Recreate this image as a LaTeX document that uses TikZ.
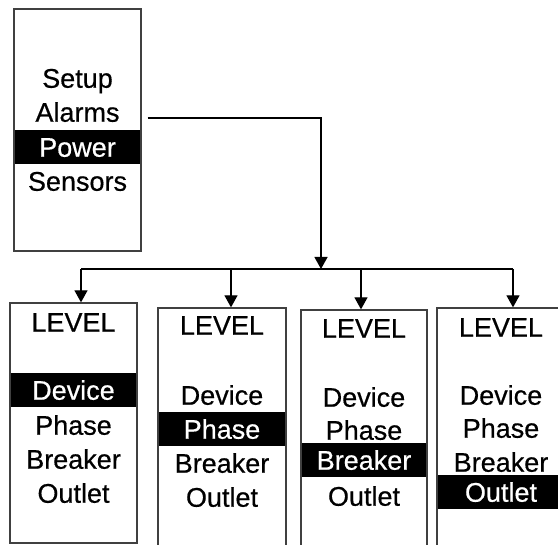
\documentclass[tikz,border=0pt]{standalone}
\usepackage{fontspec}
\setmainfont{Liberation Sans}[RawFeature={embolden=0.5}]
\usetikzlibrary{positioning}
\usetikzlibrary{arrows.meta}
\tikzset{menu/.style={draw=black!75, line width=1.3pt, rectangle, inner sep=0pt}}
\tikzset{item/.style={inner sep=0pt, text height=19.5pt, text depth=0pt, minimum height=34pt, font=\fontsize{27}{34}\selectfont}}
\tikzset{selected/.style={item, fill=black, text=white}}
\tikzset{connect/.style={draw, line width=1.3pt, -{Triangle[length=12pt,width=13pt]}}}

\begin{document}
\begin{tikzpicture}[x=1pt,y=-1pt]
\useasboundingbox (0,0) rectangle (558,545);
\clip (0,0) rectangle (558,545);

%main menu
\node[item] (setup) at (77.5,78) {Setup};
\node[item] (alarms) at (77.5,112) {Alarms};
\node[selected,minimum width=126pt] (power) at (77.5,147) {Power};
\node[item] (sensors) at (77.5,181) {Sensors};
\node[menu,minimum width=127pt,minimum height=242pt] (mainmenu) at (77.5,130) {};

%level menus
\node[item] (levelA) at (73.5,322) {LEVEL};
\node[selected,minimum width=126pt] (deviceA) at (73.5,390) {Device};
\node[item] (phaseA) at (73.5,425) {Phase};
\node[item] (breakerA) at (73.5,459) {Breaker};
\node[item] (outletA) at (73.5,493) {Outlet};
\node[menu,minimum width=127pt,minimum height=240pt] (device) at (73.5,423) {};

\node[item] (levelB) at (222,325) {LEVEL};
\node[item] (deviceB) at (222,395) {Device};
\node[selected,minimum width=127pt] (phaseB) at (222,429) {Phase};
\node[item] (breakerB) at (222,463) {Breaker};
\node[item] (outletB) at (222,497) {Outlet};
\node[menu,minimum width=128pt,minimum height=252pt] (phase) at (222,434) {};

\node[item] (levelC) at (364,328) {LEVEL};
\node[item] (deviceC) at (364,397) {Device};
\node[item] (phaseC) at (364,430) {Phase};
\node[selected,minimum width=125pt] (breakerC) at (364,460) {Breaker};
\node[item] (outletC) at (364,496) {Outlet};
\node[menu,minimum width=126pt,minimum height=250pt] (breaker) at (364,435) {};

\node[item] (levelD) at (501,327) {LEVEL};
\node[item] (deviceD) at (501,395) {Device};
\node[item] (phaseD) at (501,428) {Phase};
\node[item] (breakerD) at (501,462) {Breaker};
\node[selected,minimum width=142pt] (outletD) at (508.5,492) {\hspace*{-15pt}Outlet};
\node[menu,minimum width=143pt,minimum height=252pt] (outlet) at (508.5,434) {};

%bus
\coordinate (busin) at (321,269);
\coordinate (busL) at (81,269);
\coordinate (busB) at (231,269);
\coordinate (busC) at (361,269);
\coordinate (busR) at (513,269);
\path[draw, line width=1.3pt] (busL) -- (busR);

%connections
\path[connect] ([xshift=6pt,yshift=12pt]mainmenu.east) -| (busin);
\path[connect] (busL) -- (busL |- device.north);
\path[connect] (busB) -- (busB |- phase.north);
\path[connect] (busC) -- (busC |- breaker.north);
\path[connect] (busR) -- (busR |- outlet.north);

\end{tikzpicture}
\end{document}
